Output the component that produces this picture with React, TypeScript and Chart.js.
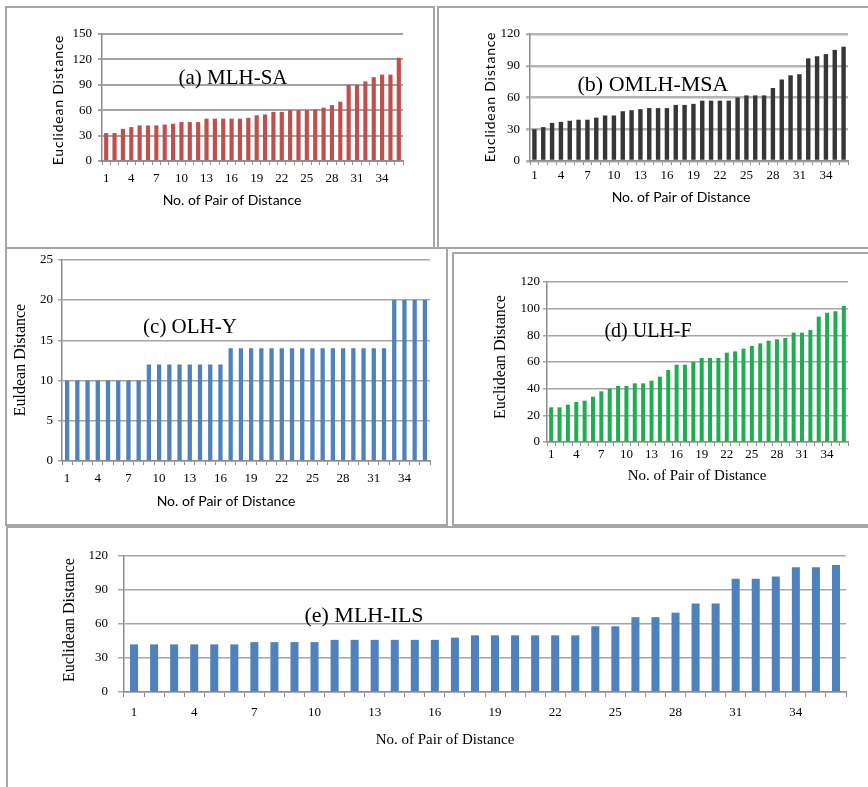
import React, { useEffect, useRef } from 'react';
import { Chart, registerables } from 'chart.js';

Chart.register(...registerables);

// ---------- data ----------
const pairs = ['1','2','3','4','5','6','7','8','9','10','11','12','13','14','15','16','17','18',
  '19','20','21','22','23','24','25','26','27','28','29','30','31','32','33','34','35','36'];
const shownPairTicks = ['1','4','7','10','13','16','19','22','25','28','31','34'];

const mlhSA = [33,33,38,40,42,42,42,43,44,46,46,46,50,50,50,50,50,51,54,55,58,58,60,60,60,61,63,66,70,90,90,94,99,102,102,122];
const omlhMSA = [30,32,36,37,38,39,39,41,43,43,47,48,49,50,50,50,53,53,54,57,57,57,57,60,62,62,62,69,77,81,82,97,99,101,105,108];
const olhY = [10,10,10,10,10,10,10,10,12,12,12,12,12,12,12,12,14,14,14,14,14,14,14,14,14,14,14,14,14,14,14,14,20,20,20,20];
const ulhF = [26,26,28,30,31,34,38,40,42,42,44,44,46,49,54,58,58,60,63,63,63,67,68,70,72,74,76,77,78,82,82,84,94,97,98,102];
const mlhILS = [42,42,42,42,42,42,44,44,44,44,46,46,46,46,46,46,48,50,50,50,50,50,50,58,58,66,66,70,78,78,100,100,102,110,110,112];

const yRangeA = { max: 150, step: 30 };
const yRangeB = { max: 120, step: 30 };
const yRangeC = { max: 25, step: 5 };
const yRangeD = { max: 120, step: 20 };
const yRangeE = { max: 120, step: 30 };

const SERIF = "'Liberation Serif', 'Times New Roman', serif";
const SANS = "Lato, 'Noto Sans', sans-serif";

type TextItem = { text: string; x: number; y: number; font: string; rotate?: boolean; spacing?: number };

interface PanelCfg {
  key: string;
  box: { x: number; y: number; w: number; h: number };
  area: { l: number; t: number; r: number; b: number };
  data: number[];
  range: { max: number; step: number };
  color: string;
  barPct: number;
  gridColor: string;
  gridWidth: number;
  yTickLen: number;
  yTickPad: number;
  xTickLen: number;
  xTickPad: number;
  tickFont: number;
  texts: TextItem[];
}

const panels: PanelCfg[] = [
  {
    key: 'a',
    box: { x: 5, y: 6, w: 430, h: 243 },
    area: { l: 102, t: 34, r: 403, b: 161 },
    data: mlhSA, range: yRangeA, color: '#c0504d', barPct: 0.5,
    gridColor: '#a3a3a3', gridWidth: 2, yTickLen: 4, yTickPad: 6, xTickLen: 4, xTickPad: 6, tickFont: 13,
    texts: [
      { text: '(a) MLH-SA', x: 233, y: 78, font: `21px ${SERIF}` },
      { text: 'Euclidean Distance', x: 58, y: 100, font: `14px ${SANS}`, rotate: true, spacing: 0.8 },
      { text: 'No. of Pair of Distance', x: 232, y: 200, font: `14px ${SANS}` },
    ],
  },
  {
    key: 'b',
    box: { x: 437, y: 6, w: 435, h: 243 },
    area: { l: 530, t: 34, r: 848, b: 161 },
    data: omlhMSA, range: yRangeB, color: '#363636', barPct: 0.5,
    gridColor: '#b4b4b4', gridWidth: 2.5, yTickLen: 4, yTickPad: 6, xTickLen: 4, xTickPad: 3, tickFont: 13,
    texts: [
      { text: '(b) OMLH-MSA', x: 653, y: 85, font: `22px ${SERIF}` },
      { text: 'Euclidean Distance', x: 490, y: 97, font: `14px ${SANS}`, rotate: true, spacing: 0.8 },
      { text: 'No. of Pair of Distance', x: 681, y: 197, font: `14px ${SANS}` },
    ],
  },
  {
    key: 'c',
    box: { x: 5, y: 247, w: 443, h: 279 },
    area: { l: 62, t: 257, r: 430, b: 461 },
    data: olhY, range: yRangeC, color: '#4f81bd', barPct: 0.42,
    gridColor: '#a6a6a6', gridWidth: 1.5, yTickLen: 4, yTickPad: 5, xTickLen: 4, xTickPad: 6, tickFont: 13,
    texts: [
      { text: '(c) OLH-Y', x: 190, y: 327, font: `21px ${SERIF}` },
      { text: 'Euldean Distance', x: 21, y: 360, font: `16px ${SERIF}`, rotate: true },
      { text: 'No. of Pair of Distance', x: 226, y: 501, font: `14px ${SANS}` },
    ],
  },
  {
    key: 'd',
    box: { x: 452, y: 252, w: 420, h: 274 },
    area: { l: 547, t: 282, r: 848, b: 442 },
    data: ulhF, range: yRangeD, color: '#1fae4f', barPct: 0.48,
    gridColor: '#a6a6a6', gridWidth: 1.5, yTickLen: 4, yTickPad: 3, xTickLen: 4, xTickPad: 1, tickFont: 13,
    texts: [
      { text: '(d) ULH-F', x: 648, y: 332, font: `20px ${SERIF}` },
      { text: 'Euclidean Distance', x: 501, y: 357, font: `16px ${SERIF}`, rotate: true },
      { text: 'No. of Pair of Distance', x: 697, y: 476, font: `15px ${SERIF}` },
    ],
  },
  {
    key: 'e',
    box: { x: 6, y: 526, w: 866, h: 270 },
    area: { l: 124, t: 556, r: 846, b: 692 },
    data: mlhILS, range: yRangeE, color: '#4f81bd', barPct: 0.4,
    gridColor: '#a6a6a6', gridWidth: 1.5, yTickLen: 6, yTickPad: 10, xTickLen: 5, xTickPad: 8, tickFont: 13,
    texts: [
      { text: '(e) MLH-ILS', x: 364, y: 616, font: `22px ${SERIF}` },
      { text: 'Euclidean Distance', x: 70, y: 620, font: `16px ${SERIF}`, rotate: true },
      { text: 'No. of Pair of Distance', x: 445, y: 740, font: `15px ${SERIF}` },
    ],
  },
];

const textPlugin = {
  id: 'panelText',
  afterDraw(chart: any, _args: any, opts: any) {
    const ctx = chart.ctx as CanvasRenderingContext2D;
    const items: TextItem[] = opts.items || [];
    for (const it of items) {
      ctx.save();
      ctx.font = it.font;
      ctx.fillStyle = '#000';
      ctx.textAlign = 'center';
      ctx.textBaseline = 'middle';
      if (it.spacing) (ctx as any).letterSpacing = `${it.spacing}px`;
      ctx.translate(it.x - opts.ox, it.y - opts.oy);
      if (it.rotate) ctx.rotate(-Math.PI / 2);
      ctx.fillText(it.text, 0, 0);
      ctx.restore();
    }
  },
};

function Panel({ cfg }: { cfg: PanelCfg }) {
  const ref = useRef<HTMLCanvasElement | null>(null);
  useEffect(() => {
    if (!ref.current) return;
    const { box, area } = cfg;
    const yWidth = area.l - box.x;
    const xHeight = box.y + box.h - area.b;
    const chart = new Chart(ref.current, {
      type: 'bar',
      data: {
        labels: pairs,
        datasets: [{
          data: cfg.data,
          backgroundColor: cfg.color,
          borderWidth: 0,
          barPercentage: cfg.barPct,
          categoryPercentage: 1,
        }],
      },
      plugins: [textPlugin as any],
      options: {
        animation: false,
        responsive: false,
        devicePixelRatio: 1,
        layout: { padding: { left: 0, top: area.t - box.y, right: box.x + box.w - area.r, bottom: 0 } },
        plugins: {
          legend: { display: false },
          tooltip: { enabled: false },
          panelText: { items: cfg.texts, ox: box.x, oy: box.y },
        } as any,
        scales: {
          x: {
            offset: true,
            afterFit: (axis: any) => { axis.height = xHeight; },
            grid: {
              display: true, drawOnChartArea: false, drawTicks: true, offset: true,
              tickLength: cfg.xTickLen, color: '#8c8c8c', lineWidth: 1,
            },
            border: { display: true, color: '#8c8c8c', width: 1.5 },
            ticks: {
              autoSkip: false, maxRotation: 0, minRotation: 0, padding: cfg.xTickPad, color: '#000',
              font: { family: SERIF, size: cfg.tickFont },
              callback: (_v: any, i: number) => (shownPairTicks.includes(pairs[i]) ? pairs[i] : ''),
            },
          },
          y: {
            min: 0, max: cfg.range.max,
            afterFit: (axis: any) => { axis.width = yWidth; },
            grid: {
              color: cfg.gridColor, lineWidth: cfg.gridWidth, drawTicks: true, tickLength: cfg.yTickLen,
            },
            border: { display: true, color: '#8c8c8c', width: 1.5 },
            ticks: {
              stepSize: cfg.range.step, padding: cfg.yTickPad, color: '#000',
              font: { family: SERIF, size: cfg.tickFont },
            },
          },
        },
      } as any,
    });
    return () => chart.destroy();
  }, [cfg]);
  const { box } = cfg;
  return (
    <>
      <div style={{
        position: 'absolute', left: box.x, top: box.y, width: box.w, height: box.h,
        border: '2px solid #a6a6a6', boxSizing: 'border-box',
      }} />
      <canvas ref={ref} width={box.w} height={box.h}
        style={{ position: 'absolute', left: box.x, top: box.y, width: box.w, height: box.h }} />
    </>
  );
}

export default function App() {
  return (
    <div style={{ position: 'absolute', left: 0, top: 0, width: 868, height: 787, overflow: 'hidden', background: '#fff' }}>
      {panels.map((p) => <Panel key={p.key} cfg={p} />)}
    </div>
  );
}
